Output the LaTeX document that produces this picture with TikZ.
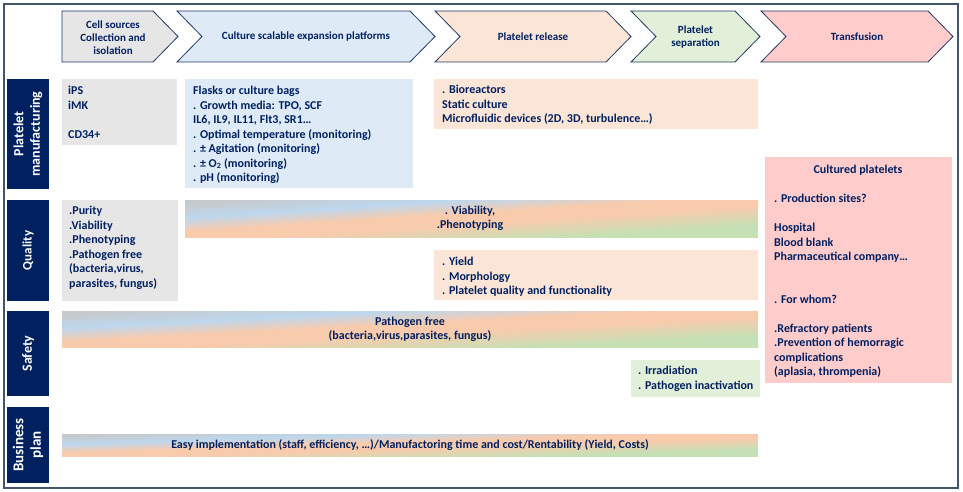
\documentclass[tikz,border=0pt]{standalone}
\usepackage{fontspec}
\setmainfont{Carlito}
\usetikzlibrary{positioning}

\definecolor{navy}{RGB}{0,32,96}
\definecolor{frameblue}{RGB}{68,84,106}
\definecolor{stageline}{RGB}{32,56,100}
\definecolor{cellgrey}{RGB}{231,230,230}
\definecolor{cultblue}{RGB}{222,235,247}
\definecolor{relpeach}{RGB}{251,229,214}
\definecolor{sepgreen}{RGB}{226,240,217}
\definecolor{transpink}{RGB}{255,204,204}
\definecolor{barGrey}{RGB}{200,200,200}
\definecolor{barBlue}{RGB}{189,215,238}
\definecolor{barPeach}{RGB}{248,203,173}
\definecolor{barGreen}{RGB}{197,224,180}

\pgfdeclareverticalshading{mixbar}{100bp}{color(0bp)=(barGreen); color(32bp)=(barGreen);
  color(46bp)=(barPeach); color(54bp)=(barPeach); color(64bp)=(barBlue);
  color(75bp)=(barGrey); color(100bp)=(barGrey)}

\begin{document}
\begin{tikzpicture}[
    x=1pt,
    y=-1pt,
    font=\fontsize{12}{14.5}\selectfont\bfseries,
    text=navy,
    stage/.style={draw=stageline, line width=0.8pt},
    stagetext/.style={inner sep=0pt, align=center, font=\fontsize{11}{13}\selectfont\bfseries},
    rowlabel/.style={fill=navy, text=white, rotate=90, align=center, inner sep=0pt, minimum height=42pt,
        font=\fontsize{14}{16.5}\selectfont\bfseries},
    listtext/.style={anchor=north west, inner sep=0pt, align=left},
    bartext/.style={inner sep=0pt, align=center},
    gradbar/.style={shading=mixbar, shading angle=#1}
]
\useasboundingbox (0,0) rectangle (963,492);
\draw[frameblue, line width=1.5pt] (4,4) rectangle (958,488);

% process stages
\draw[stage, fill=cellgrey] (62,11) -- (153,11) -- (178,36.5) -- (153,62) -- (62,62) -- cycle;
\node[stagetext] (stagecell) at (113,37.5) {Cell sources\\Collection and\\isolation};
\foreach \xa/\xb/\col/\name/\lab in {
    177/410/cultblue/cult/{Culture scalable expansion platforms},
    435/606/relpeach/rel/{Platelet release},
    631/735/sepgreen/sep/{Platelet\\separation},
    761/928/transpink/trans/{Transfusion}} {
    \draw[stage, fill=\col] (\xa,11) -- (\xb,11) -- (\xb+25,36.5) -- (\xb,62) -- (\xa,62) -- (\xa+25,36.5) -- cycle;
    \node[stagetext] (stage\name) at ({(\xa+25+\xb)/2},37) {\lab};
}

% row labels
\node[rowlabel, minimum width=110pt] (rowmanuf) at (28,134) {Platelet\\manufacturing};
\node[rowlabel, minimum width=101pt, font=\fontsize{13}{15}\selectfont\bfseries] (rowquality) at (28,250.5) {Quality};
\node[rowlabel, minimum width=85pt] (rowsafety) at (28,353.5) {Safety};
\node[rowlabel, minimum width=76pt, font=\fontsize{15}{17.5}\selectfont\bfseries] (rowbusiness) at (28,445) {Business\\plan};

% platelet manufacturing
\fill[cellgrey] (62,79) rectangle (177,145);
\node[listtext] (cellsrc) at (68,86) {iPS\\iMK\\[14.5pt]CD34+};
\fill[cultblue] (185,79) rectangle (413,188);
\node[listtext] (cultmedia) at (193,86) {Flasks or culture bags\\. Growth media: TPO, SCF\\IL6, IL9, IL11, Flt3, SR1…\\. Optimal temperature (monitoring)\\. ± Agitation (monitoring)\\. ± O\textsubscript{2} (monitoring)\\. pH (monitoring)};
\fill[relpeach] (434,79) rectangle (758,129);
\node[listtext] (reldevices) at (442,85) {. Bioreactors\\Static culture\\Microfluidic devices (2D, 3D, turbulence…)};

% transfusion
\fill[transpink] (765,157) rectangle (952,383);
\node[bartext] (transtitle) at (858,170) {Cultured platelets};
\node[listtext] (transbody) at (774,194) {. Production sites?\\[14.5pt]Hospital\\Blood blank\\Pharmaceutical company…\\[28pt]. For whom?\\[14.5pt].Refractory patients\\.Prevention of hemorragic\\complications\\(aplasia, thrompenia)};

% quality
\fill[cellgrey] (62,200) rectangle (178,301);
\node[listtext] (qualcell) at (69,206) {.Purity\\.Viability\\.Phenotyping\\.Pathogen free\\(bacteria,virus,\\parasites, fungus)};
\shade[gradbar=3.69] (185,200) rectangle (758,237);
\node[bartext] (qualbar) at (470,218.5) {. Viability,\\.Phenotyping};
\fill[relpeach] (434,250) rectangle (758,300);
\node[listtext] (qualrel) at (442,257) {. Yield\\. Morphology\\. Platelet quality and functionality};

% safety
\shade[gradbar=2.96] (62,311) rectangle (758,347);
\node[bartext] (safebar) at (410,329.5) {Pathogen free\\(bacteria,virus,parasites, fungus)};
\fill[sepgreen] (631,360) rectangle (760,397);
\node[listtext] (safesep) at (638,366) {. Irradiation\\. Pathogen inactivation};

% business plan
\shade[gradbar=1.81] (62,434) rectangle (758,456);
\node[bartext] (busbar) at (410,445) {Easy implementation (staff, efficiency, …)/Manufactoring time and cost/Rentability (Yield, Costs)};
\end{tikzpicture}
\end{document}
